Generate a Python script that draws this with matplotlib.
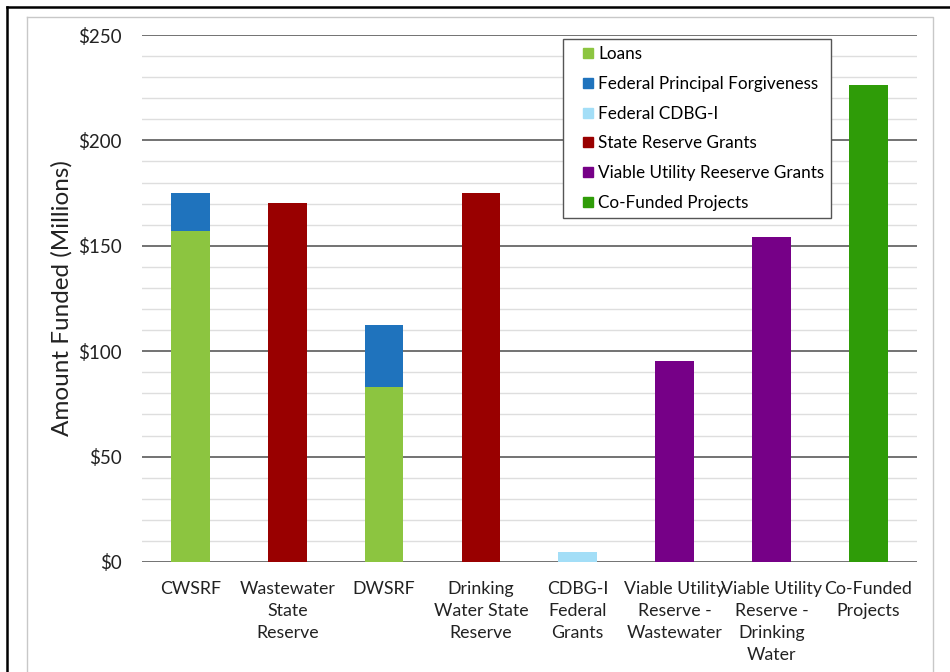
import numpy as np
import matplotlib.pyplot as plt
from matplotlib.lines import Line2D
from matplotlib.ticker import MultipleLocator, FuncFormatter

plt.rcParams['font.family'] = ['Lato', 'DejaVu Sans']

# categories and funded amounts ($ millions)
categories = ['CWSRF', 'Wastewater\nState\nReserve', 'DWSRF', 'Drinking\nWater State\nReserve',
              'CDBG-I\nFederal\nGrants', 'Viable Utility\nReserve -\nWastewater',
              'Viable Utility\nReserve -\nDrinking\nWater', 'Co-Funded\nProjects']
loans = [157, 0, 83, 0, 0, 0, 0, 0]
principal_forgiveness = [18.2, 0, 29.5, 0, 0, 0, 0, 0]
cdbg_i = [0, 0, 0, 0, 4.7, 0, 0, 0]
state_reserve = [0, 170.5, 0, 175, 0, 0, 0, 0]
viable_utility = [0, 0, 0, 0, 0, 95.5, 154, 0]
co_funded = [0, 0, 0, 0, 0, 0, 0, 226.5]

series = [
    ('Loans', loans, '#8cc540'),
    ('Federal Principal Forgiveness', principal_forgiveness, '#1f73bd'),
    ('Federal CDBG-I', cdbg_i, '#a3def7'),
    ('State Reserve Grants', state_reserve, '#990000'),
    ('Viable Utility Reeserve Grants', viable_utility, '#760087'),
    ('Co-Funded Projects', co_funded, '#2f9c08'),
]

fig = plt.figure(figsize=(9.5, 6.72), dpi=100)
ax = fig.add_axes([0.1495, 0.1637, 0.8155, 0.7842])

x = np.arange(len(categories))
bottom = np.zeros(len(categories))
handles = []
for name, vals, col in series:
    vals = np.array(vals, dtype=float)
    ax.bar(x, vals, 0.4, bottom=bottom, color=col, linewidth=0, zorder=3)
    bottom += vals
    handles.append(Line2D([], [], marker='s', linestyle='none', markersize=7.5,
                          color=col, label=name))

ax.set_xlim(-0.5, len(categories) - 0.5)
ax.set_ylim(0, 250)
ax.yaxis.set_major_locator(MultipleLocator(50))
ax.yaxis.set_minor_locator(MultipleLocator(10))
ax.yaxis.set_major_formatter(FuncFormatter(lambda v, p: f'${v:.0f}'))
ax.grid(axis='y', which='major', color='#5a5a5a', linewidth=1.2, zorder=1)
ax.grid(axis='y', which='minor', color='#dedede', linewidth=1.0, zorder=0)
ax.tick_params(axis='y', which='both', length=0, labelsize=13.5, pad=14.5, colors='#222222')
ax.tick_params(axis='x', length=0, labelsize=12.8, pad=14, colors='#222222')
ax.set_xticks(x)
ax.set_xticklabels(categories, linespacing=1.45)
for s in ax.spines.values():
    s.set_visible(False)
ax.set_ylabel('Amount Funded (Millions)', fontsize=17.5, color='#222222')
ax.yaxis.set_label_coords(-0.09, 0.5)

leg = ax.legend(handles=handles, loc='upper left', bbox_to_anchor=(0.543, 0.992),
                borderaxespad=0, fancybox=False, edgecolor='#555555', fontsize=12.3,
                handlelength=2.1, handletextpad=-0.45, labelspacing=0.8,
                borderpad=0.42, framealpha=1)
leg.get_frame().set_linewidth(1.0)
leg.set_zorder(5)

# outer frames
W, H = 950, 672
fig.add_artist(Line2D([7 / W, 1], [1 - 7 / H, 1 - 7 / H], color='black', lw=1.8))
fig.add_artist(Line2D([7 / W, 7 / W], [0, 1 - 7 / H], color='black', lw=1.8))
fig.add_artist(Line2D([27 / W, 933 / W, 933 / W], [1 - 17 / H, 1 - 17 / H, 0], color='#c8c8c8', lw=1))
fig.add_artist(Line2D([27 / W, 27 / W], [1 - 17 / H, 0], color='#c8c8c8', lw=1))

fig.savefig('out.png', dpi=100)
